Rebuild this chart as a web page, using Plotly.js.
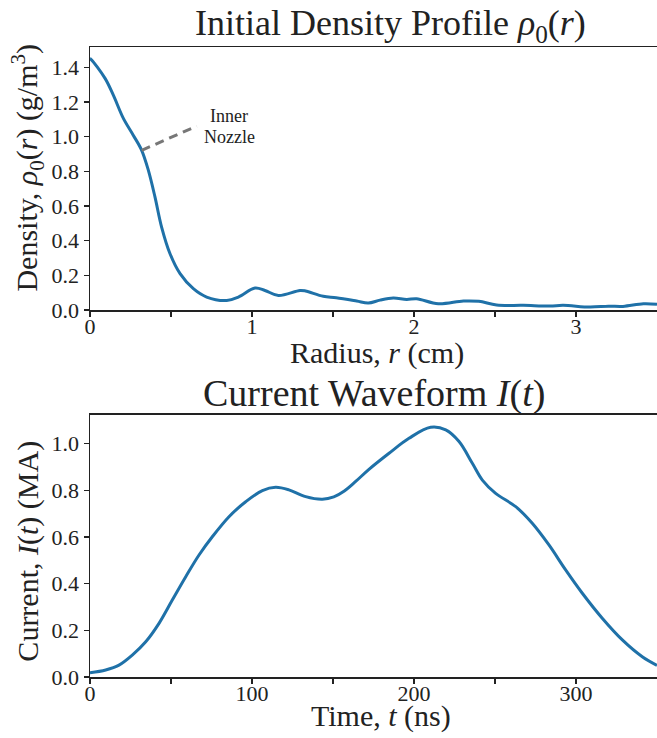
<!DOCTYPE html>
<html>
<head>
<meta charset="utf-8">
<script src="https://cdn.plot.ly/plotly-3.0.1.min.js"></script>
<style>html,body{margin:0;padding:0;background:#fff;}#chart{width:657px;height:738px;}</style>
</head>
<body>
<div id="chart"></div>
<script>
// Density profile data
const radius = [0.0, 0.006, 0.093, 0.144, 0.206, 0.267, 0.319, 0.36, 0.401, 0.442, 0.494, 0.556, 0.638, 0.72, 0.844, 0.916, 1.019, 1.08, 1.163, 1.296, 1.33, 1.44, 1.52, 1.646, 1.718, 1.79, 1.872, 1.955, 2.016, 2.15, 2.305, 2.4, 2.51, 2.675, 2.84, 2.92, 3.086, 3.2, 3.29, 3.416, 3.5];
const density = [1.45, 1.447, 1.337, 1.24, 1.106, 1.009, 0.922, 0.807, 0.653, 0.479, 0.325, 0.21, 0.123, 0.075, 0.055, 0.075, 0.127, 0.113, 0.084, 0.113, 0.11, 0.079, 0.071, 0.052, 0.04, 0.057, 0.069, 0.061, 0.065, 0.036, 0.052, 0.05, 0.029, 0.027, 0.023, 0.027, 0.017, 0.022, 0.021, 0.036, 0.033];

// Current waveform data
const time = [0, 9.7, 17.9, 26.1, 34.4, 42.6, 50.8, 59.1, 67.3, 75.5, 85.8, 96.1, 106.4, 114.6, 122.8, 133.1, 143.4, 150.5, 157, 164, 172.2, 184.6, 196.9, 210.3, 219.6, 227.8, 236, 242.2, 250.4, 262.8, 273, 283.3, 293.6, 303.9, 316.2, 328.6, 340.9, 350];
const current = [0.018, 0.03, 0.051, 0.094, 0.151, 0.23, 0.33, 0.43, 0.523, 0.601, 0.687, 0.751, 0.799, 0.813, 0.802, 0.773, 0.762, 0.772, 0.797, 0.838, 0.89, 0.959, 1.023, 1.07, 1.059, 1.009, 0.916, 0.844, 0.787, 0.73, 0.659, 0.566, 0.459, 0.359, 0.252, 0.159, 0.087, 0.05];

// Annotation line (Inner Nozzle)
const nozzleLineX = [0.319, 0.659];
const nozzleLineY = [0.922, 1.061];
const nozzleLabels = ['Inner', 'Nozzle'];

const lineColor = '#1f71a8';
const fontFam = 'Liberation Serif, DejaVu Serif, serif';
const ink = '#222';

const traces = [
  {x: radius, y: density, type: 'scatter', mode: 'lines', line: {color: lineColor, width: 3, shape: 'spline', smoothing: 1}, xaxis: 'x', yaxis: 'y', hoverinfo: 'skip'},
  {x: nozzleLineX, y: nozzleLineY, type: 'scatter', mode: 'lines', line: {color: '#777777', width: 3, dash: '9px,6px'}, xaxis: 'x', yaxis: 'y', hoverinfo: 'skip'},
  {x: time, y: current, type: 'scatter', mode: 'lines', line: {color: lineColor, width: 3, shape: 'spline', smoothing: 1}, xaxis: 'x2', yaxis: 'y2', hoverinfo: 'skip'}
];

const axCommon = {
  showline: true, linecolor: ink, linewidth: 1.5, ticks: 'outside', ticklen: 5, tickwidth: 1.3, tickcolor: ink,
  showgrid: false, zeroline: false, tickfont: {family: fontFam, size: 22, color: ink}
};
const minorCommon = {ticks: 'outside', ticklen: 5, tickwidth: 1.3, tickcolor: ink, showgrid: false};
const axTitleFont = {family: fontFam, size: 30, color: ink};

const layout = {
  width: 657, height: 738,
  margin: {l: 90, r: 0, t: 47, b: 61},
  paper_bgcolor: '#fff', plot_bgcolor: '#fff',
  showlegend: false,
  font: {family: fontFam, color: ink},
  xaxis: Object.assign({}, axCommon, {domain: [0, 1], anchor: 'y', range: [0, 3.5], tickvals: [0, 1, 2, 3], ticktext: ['0', '1', '2', '3'], mirror: true, ticklabelstandoff: -9,
    minor: Object.assign({tickvals: [0.5, 1.5, 2.5]}, minorCommon)}),
  yaxis: Object.assign({}, axCommon, {domain: [0.5825, 1], anchor: 'x', range: [0, 1.518], tickvals: [0, 0.2, 0.4, 0.6, 0.8, 1.0, 1.2, 1.4], ticktext: ['0.0', '0.2', '0.4', '0.6', '0.8', '1.0', '1.2', '1.4']}),
  xaxis2: Object.assign({}, axCommon, {domain: [0, 1], anchor: 'y2', range: [0, 350], tickvals: [0, 100, 200, 300], ticktext: ['0', '100', '200', '300'], mirror: true, ticklabelstandoff: -9,
    minor: Object.assign({tickvals: [50, 150, 250]}, minorCommon)}),
  yaxis2: Object.assign({}, axCommon, {domain: [0, 0.4159], anchor: 'x2', range: [0, 1.123], tickvals: [0, 0.2, 0.4, 0.6, 0.8, 1.0], ticktext: ['0.0', '0.2', '0.4', '0.6', '0.8', '1.0']}),
  annotations: [
    {xref: 'paper', yref: 'paper', x: 0.53, y: 1.0, yanchor: 'bottom', xanchor: 'center', yshift: -3, showarrow: false,
     text: 'Initial Density Profile <i>ρ</i><sub>0</sub>(<i>r</i>)', font: {family: fontFam, size: 36, color: ink}},
    {xref: 'paper', yref: 'paper', x: 0.5, y: 0.4159, yanchor: 'bottom', xanchor: 'center', yshift: -2, showarrow: false,
     text: 'Current Waveform <i>I</i>(<i>t</i>)', font: {family: fontFam, size: 38, color: ink}},
    {xref: 'paper', yref: 'paper', x: 0.506, y: 0.514, xanchor: 'center', yanchor: 'middle', showarrow: false,
     text: 'Radius, <i>r</i> (cm)', font: axTitleFont},
    {xref: 'paper', yref: 'paper', x: 0.513, y: -0.062, xanchor: 'center', yanchor: 'middle', showarrow: false,
     text: 'Time, <i>t</i> (ns)', font: axTitleFont},
    {xref: 'paper', yref: 'paper', x: -0.11, y: 0.808, xanchor: 'center', yanchor: 'middle', showarrow: false, textangle: -90,
     text: 'Density, <i>ρ</i><sub>0</sub>(<i>r</i>) (g/m<sup>3</sup>)', font: axTitleFont},
    {xref: 'paper', yref: 'paper', x: -0.11, y: 0.2, xanchor: 'center', yanchor: 'middle', showarrow: false, textangle: -90,
     text: 'Current, <i>I</i>(<i>t</i>) (MA)', font: axTitleFont},
    {xref: 'x', yref: 'y', x: 0.86, y: 1.12, xanchor: 'center', yanchor: 'middle', showarrow: false,
     text: nozzleLabels[0], font: {family: fontFam, size: 18, color: ink}},
    {xref: 'x', yref: 'y', x: 0.86, y: 1.0, xanchor: 'center', yanchor: 'middle', showarrow: false,
     text: nozzleLabels[1], font: {family: fontFam, size: 18, color: ink}}
  ]
};

Plotly.newPlot('chart', traces, layout, {staticPlot: true, displayModeBar: false});
</script>
</body>
</html>
